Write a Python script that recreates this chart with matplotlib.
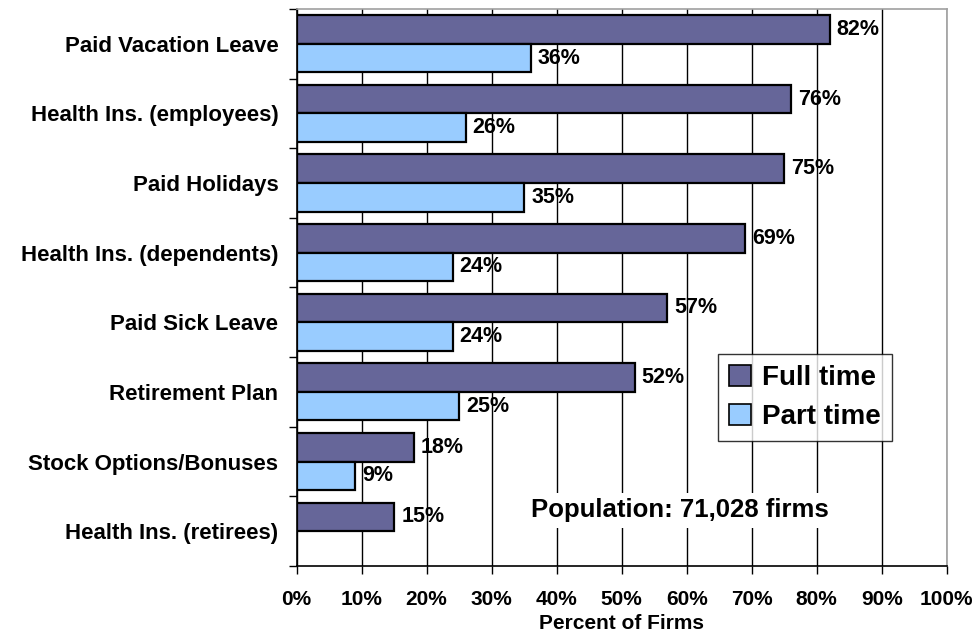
import matplotlib.pyplot as plt
import numpy as np
from matplotlib.patches import Patch

plt.rcParams.update(
    {
        "font.family": ["Liberation Sans", "DejaVu Sans"],
        "font.weight": "bold",
    }
)

categories = [
    "Paid Vacation Leave",
    "Health Ins. (employees)",
    "Paid Holidays",
    "Health Ins. (dependents)",
    "Paid Sick Leave",
    "Retirement Plan",
    "Stock Options/Bonuses",
    "Health Ins. (retirees)",
]
full_time = [82, 76, 75, 69, 57, 52, 18, 15]
part_time = [36, 26, 35, 24, 24, 25, 9, 0]
x_ticks = [0, 10, 20, 30, 40, 50, 60, 70, 80, 90, 100]

FULL_COLOR = "#666699"
PART_COLOR = "#99CCFF"

fig = plt.figure(figsize=(9.78, 6.37), dpi=100)
ax = fig.add_axes([0.3032, 0.1115, 0.6648, 0.8745])

idx = np.arange(len(categories))
h = 0.41
ax.barh(idx + 0.5 - h / 2, full_time, height=h, color=FULL_COLOR,
        edgecolor="black", linewidth=1.6, zorder=3)
parts = [v if v > 0 else np.nan for v in part_time]
ax.barh(idx + 0.5 + h / 2, parts, height=h, color=PART_COLOR,
        edgecolor="black", linewidth=1.6, zorder=3)

for i, v in enumerate(full_time):
    ax.text(v + 1.1, i + 0.5 - h / 2, f"{v}%", va="center", ha="left",
            fontsize=15.5, fontweight="bold", zorder=4)
for i, v in enumerate(part_time):
    if v > 0:
        ax.text(v + 1.1, i + 0.5 + h / 2, f"{v}%", va="center", ha="left",
                fontsize=15.5, fontweight="bold", zorder=4)

ax.set_xlim(0, 100)
ax.set_ylim(len(categories), 0)
ax.set_xticks(x_ticks)
ax.set_xticklabels([f"{t}%" for t in x_ticks], fontsize=15, fontweight="bold")
ax.set_yticks(idx + 0.5)
ax.set_yticklabels(categories, fontsize=16, fontweight="bold")
ax.set_yticks(np.arange(len(categories) + 1), minor=True)
ax.tick_params(axis="y", which="major", length=0, pad=13)
ax.tick_params(axis="y", which="minor", length=6, width=1, direction="out")
ax.tick_params(axis="x", length=6, width=1, direction="out", pad=11)

ax.grid(axis="x", color="black", linewidth=1, zorder=0)
ax.set_axisbelow(True)
for side in ("top", "right"):
    ax.spines[side].set_color("#a0a0a0")
    ax.spines[side].set_linewidth(1.2)
for side in ("left", "bottom"):
    ax.spines[side].set_color("black")
    ax.spines[side].set_linewidth(1.2)

ax.set_xlabel("Percent of Firms", fontsize=15, fontweight="bold", labelpad=4)

ax.text(59, 7.2, "Population: 71,028 firms", ha="center", va="center",
        fontsize=18.5, fontweight="bold", zorder=5,
        bbox=dict(facecolor="white", edgecolor="none", pad=4))

handles = [
    Patch(facecolor=FULL_COLOR, edgecolor="black", linewidth=1.2, label="Full time"),
    Patch(facecolor=PART_COLOR, edgecolor="black", linewidth=1.2, label="Part time"),
]
leg = ax.legend(handles=handles, loc="upper left", bbox_to_anchor=(0.648, 0.381),
                fontsize=20, frameon=True, fancybox=False, edgecolor="black",
                handlelength=0.8, handleheight=0.8, handletextpad=0.4,
                borderpad=0.4, labelspacing=0.45, borderaxespad=0)
leg.get_frame().set_linewidth(1.0)
leg.set_zorder(6)
for t in leg.get_texts():
    t.set_fontweight("bold")

fig.savefig("out.png", dpi=100)
